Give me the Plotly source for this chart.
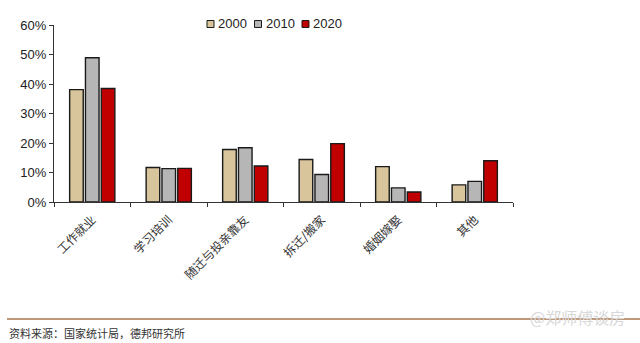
import plotly.graph_objects as go

categories = ["工作就业", "学习培训", "随迁与投亲靠友", "拆迁/搬家", "婚姻嫁娶", "其他"]
years = ["2000", "2010", "2020"]
v2000 = [0.381, 0.117, 0.178, 0.144, 0.120, 0.058]
v2010 = [0.489, 0.113, 0.184, 0.093, 0.048, 0.070]
v2020 = [0.385, 0.114, 0.122, 0.198, 0.034, 0.140]
colors = ["#D8C59B", "#B6B6B6", "#C00000"]

fig = go.Figure()
for name, vals, col in zip(years, [v2000, v2010, v2020], colors):
    fig.add_trace(go.Bar(
        x=categories, y=vals, name=name, showlegend=False,
        marker=dict(color=col, line=dict(color="#1a1a1a", width=1.4)),
    ))

W, H = 640, 343
L, R, T, B = 54, 127, 25, 141
PW, PH = W - L - R, H - T - B


def px(x):
    return (x - L) / PW


def py(y):
    return (H - B - y) / PH


fig.update_layout(
    width=W, height=H, autosize=False,
    margin=dict(l=L, r=R, t=T, b=B),
    paper_bgcolor="white", plot_bgcolor="white",
    barmode="group", bargap=0.38, bargroupgap=0.14,
    font=dict(family="Liberation Sans, Arial, sans-serif", color="#222", size=13),
    showlegend=False,
)
fig.update_yaxes(range=[0, 0.6], dtick=0.1, tickformat=".0%", showgrid=False,
                 showline=True, linecolor="#333", linewidth=1, ticks="outside",
                 ticklen=4, tickcolor="#333", zeroline=False,
                 tickfont=dict(size=13, color="#222"))
fig.update_xaxes(showgrid=False, showline=True, linecolor="#333", linewidth=1,
                 ticks="outside", tickson="boundaries", ticklen=4, tickcolor="#333",
                 tickangle=-45, ticklabelstandoff=5,
                 tickfont=dict(family="Noto Sans CJK SC", size=12, color="#333"))

# legend (custom, compact like the original)
leg_x0, leg_step, leg_y = 207, 47.5, 24
for i, (name, col) in enumerate(zip(years, colors)):
    x0 = leg_x0 + i * leg_step
    fig.add_shape(type="rect", xref="paper", yref="paper",
                  x0=px(x0), x1=px(x0 + 7), y0=py(leg_y + 3.5), y1=py(leg_y - 3.5),
                  fillcolor=col, line=dict(color="#1a1a1a", width=1))
    fig.add_annotation(text=name, xref="paper", yref="paper",
                       x=px(x0 + 9), y=py(leg_y), xanchor="left", yanchor="middle",
                       showarrow=False, font=dict(size=13, color="#222"))

fig.add_shape(type="line", xref="paper", yref="paper",
              x0=px(7), x1=px(640), y0=py(319), y1=py(319),
              line=dict(color="#A8764F", width=1.5))
fig.add_annotation(text="资料来源：国家统计局，德邦研究所", xref="paper", yref="paper",
                   x=px(7), y=py(333), xanchor="left", yanchor="middle", showarrow=False,
                   font=dict(family="Noto Sans CJK SC", size=11, color="#333"))
fig.add_annotation(text="@郑师傅谈房", xref="paper", yref="paper",
                   x=px(627), y=py(317), xanchor="right", yanchor="middle", showarrow=False,
                   font=dict(family="Noto Sans CJK SC", size=16, color="#D8D8D8"))

fig.write_html("out.html")
